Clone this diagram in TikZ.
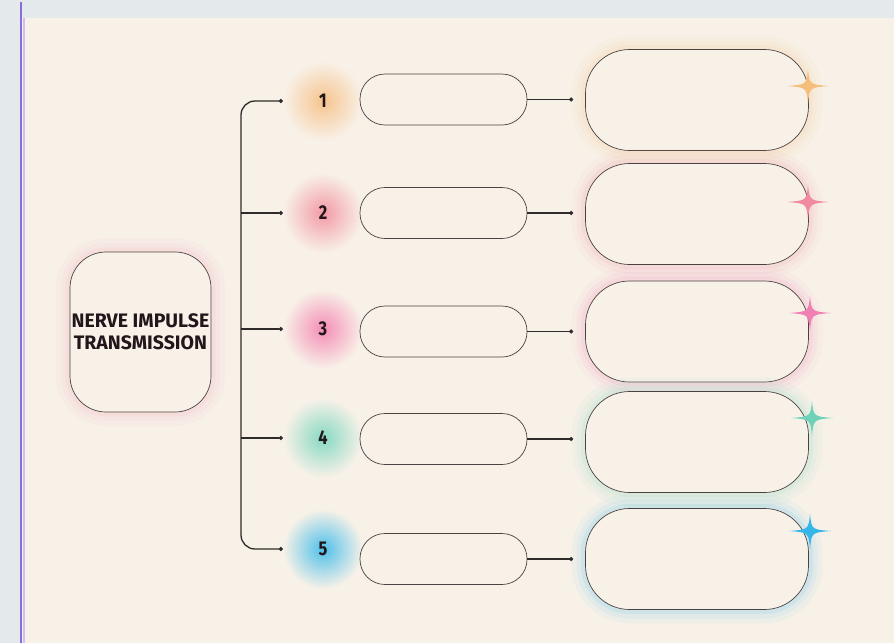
\documentclass[tikz,border=0pt]{standalone}
\usepackage{fontspec}
\setsansfont{Fira Sans}
\newfontfamily\narrowfont{Fira Sans}[FakeStretch=0.82]
\usepackage{xcolor}
\usetikzlibrary{arrows.meta}
\usetikzlibrary{positioning}
\definecolor{paper}{HTML}{F8F1E8}
\definecolor{frame}{HTML}{E4E9EB}
\definecolor{violet}{HTML}{8A6BE0}
\definecolor{lav}{HTML}{CDBFF3}
\definecolor{edge}{HTML}{4A4242}
\definecolor{ink}{HTML}{2E2B2B}
\definecolor{numtxt}{HTML}{22161A}
\definecolor{gorange}{HTML}{F6C48E}
\definecolor{gred}{HTML}{F29AA6}
\definecolor{gpink}{HTML}{F48DB6}
\definecolor{gteal}{HTML}{86D9C2}
\definecolor{gblue}{HTML}{4EC0EA}
\definecolor{ghub}{HTML}{F4A9BE}
\definecolor{sorange}{HTML}{F5BE7C}
\definecolor{sred}{HTML}{F08AA2}
\definecolor{spink}{HTML}{F07FB2}
\definecolor{steal}{HTML}{6ED2B8}
\definecolor{sblue}{HTML}{35B6E8}
\tikzset{
  halo/.style={preaction={draw=#1, line width=28pt, opacity=.06},
               preaction={draw=#1, line width=18pt, opacity=.08},
               preaction={draw=#1, line width=9pt, opacity=.12}},
  link/.style={-{Circle[length=4pt]}, draw=ink, line width=1.3pt},
  pics/sparkle/.style={code={
    \fill[pic actions] (0,-17) .. controls (1.5,-1.5) .. (21,0) .. controls (1.5,1.5) .. (0,18)
      .. controls (-1.5,1.5) .. (-21,0) .. controls (-1.5,-1.5) .. (0,-17) -- cycle;}},
}

\begin{document}
\begin{tikzpicture}[x=1pt, y=-1pt,
  hub/.style={draw=edge, line width=0.7pt, fill=paper, rounded corners=36pt, minimum width=141pt, minimum height=160pt, inner sep=0pt, align=center, font=\sffamily\bfseries\fontsize{19.5}{22}\selectfont, text=numtxt, halo=ghub},
  pill/.style={draw=edge, line width=0.7pt, fill=paper, rounded corners=25pt, minimum width=167pt, minimum height=51pt},
  card/.style={draw=edge, line width=0.7pt, fill=paper, rounded corners=44pt, minimum width=223pt, minimum height=101pt, halo=#1},
  badge/.style={circle, minimum size=40pt, inner sep=0pt, font=\narrowfont\bfseries\fontsize{20}{20}\selectfont, text=numtxt}]
  \useasboundingbox (0,0) rectangle (894,643);
  % page
  \fill[frame] (0,0) rectangle (894,643);
  \fill[paper] (22,18) rectangle (894,643);
  \draw[lav, line width=2pt] (23.5,18) -- (23.5,643);
  \draw[violet, line width=2pt] (21,2) -- (21,643);

  \node[hub] (hub) at (140.5,332) {NERVE IMPULSE\\TRANSMISSION};

  % rows: number, pill, card
  \foreach \i/\yn/\yp/\yc/\g in {1/101/99.5/100/gorange, 2/213/213/214/gred, 3/329/331.5/331.5/gpink, 4/438/439/442/gteal, 5/549/559/559/gblue} {
    \shade[inner color=\g, outer color=paper] (323,\yn) circle (40);
    \node[badge] (n\i) at (323,\yn) {\i};
    \node[pill] (p\i) at (443.5,\yp) {};
    \node[card=\g] (c\i) at (697,\yc) {};
  }

  % sparkles
  \foreach \x/\y/\s in {808/86/sorange, 808/202/sred, 810/313/spink, 812/418/steal, 810/531/sblue}
    \pic[fill=\s, preaction={draw=\s, line width=4pt, opacity=.25}] at (\x,\y) {sparkle};

  % connectors
  \coordinate (bus) at (241,0);
  \draw[link, rounded corners=14pt, shorten >=20pt] (bus |- n3.west) |- (n1.west);
  \draw[link, rounded corners=14pt, shorten >=20pt] (bus |- n3.west) |- (n5.west);
  \foreach \i in {2,3,4}
    \draw[link, shorten >=20pt] (bus |- n\i.west) -- (n\i.west);
  \foreach \i in {1,...,5}
    \draw[link, shorten >=12pt] (p\i.east) -- (p\i.east -| c\i.west);
\end{tikzpicture}
\end{document}
